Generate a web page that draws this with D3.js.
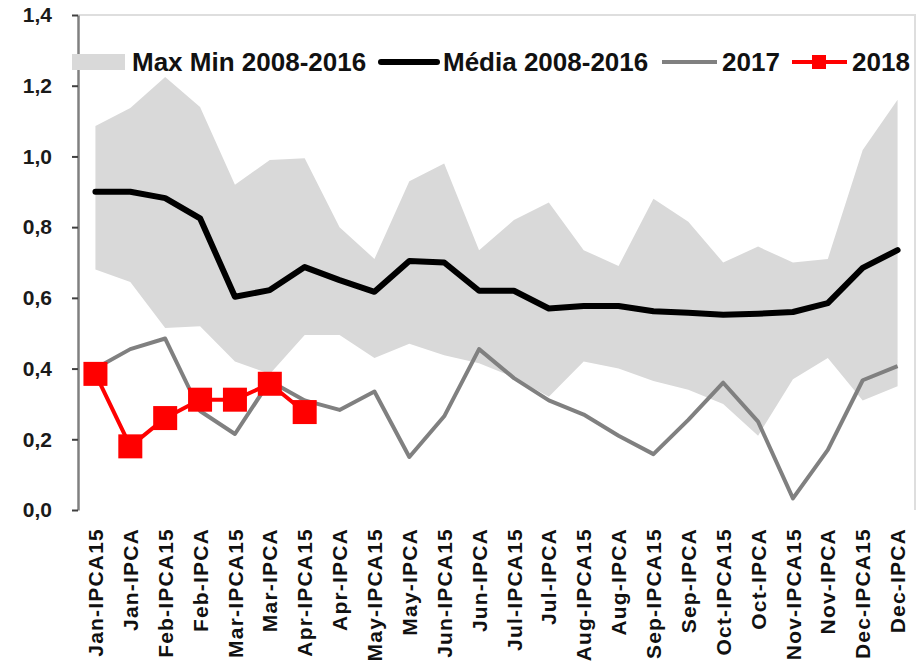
<!DOCTYPE html>
<html>
<head>
<meta charset="utf-8">
<script src="https://cdn.jsdelivr.net/npm/d3@7"></script>
<style>
  html, body { margin: 0; padding: 0; background: #fff; }
  svg { display: block; }
  text { font-family: "Liberation Sans", Arial, sans-serif; }
</style>
</head>
<body>
<svg id="chart" width="917" height="665"></svg>
<script>
const categories = ["Jan-IPCA15","Jan-IPCA","Feb-IPCA15","Feb-IPCA","Mar-IPCA15","Mar-IPCA",
  "Apr-IPCA15","Apr-IPCA","May-IPCA15","May-IPCA","Jun-IPCA15","Jun-IPCA",
  "Jul-IPCA15","Jul-IPCA","Aug-IPCA15","Aug-IPCA","Sep-IPCA15","Sep-IPCA",
  "Oct-IPCA15","Oct-IPCA","Nov-IPCA15","Nov-IPCA","Dec-IPCA15","Dec-IPCA"];
const maxVals = [1.086,1.137,1.225,1.14,0.92,0.99,0.995,0.80,0.71,0.93,0.98,0.735,
  0.82,0.87,0.735,0.69,0.88,0.815,0.70,0.745,0.70,0.71,1.018,1.16];
const minVals = [0.68,0.645,0.515,0.52,0.42,0.385,0.495,0.495,0.43,0.47,0.438,0.415,
  0.375,0.32,0.42,0.40,0.365,0.34,0.30,0.21,0.37,0.43,0.31,0.35];
const avgVals = [0.90,0.90,0.882,0.825,0.603,0.622,0.687,0.65,0.617,0.704,0.70,0.62,
  0.62,0.57,0.577,0.577,0.562,0.558,0.552,0.555,0.56,0.585,0.685,0.735];
const vals2017 = [0.40,0.455,0.485,0.28,0.215,0.365,0.31,0.283,0.335,0.15,0.265,0.455,
  0.373,0.31,0.27,0.21,0.158,0.255,0.36,0.25,0.033,0.17,0.367,0.407];
const vals2018 = [0.385,0.18,0.26,0.312,0.312,0.357,0.277];
const yTicks = [0,0.2,0.4,0.6,0.8,1.0,1.2,1.4];
const legendLabels = ["Max Min 2008-2016","Média 2008-2016","2017","2018"];

const svg = d3.select("#chart");
const W = 917, H = 665;
const plot = {left: 78, right: 915, top: 15, bottom: 510};

const x = d3.scaleBand().domain(categories).range([plot.left, plot.right]).padding(0);
const cx = c => x(c) + x.bandwidth() / 2;
const y = d3.scaleLinear().domain([0, 1.4]).range([plot.bottom, plot.top]);

svg.append("rect").attr("width", W).attr("height", H).attr("fill", "#fff");

// plot frame (top and right)
svg.append("path")
  .attr("d", `M${plot.left},${plot.top}H${plot.right}V${plot.bottom}`)
  .attr("fill", "none").attr("stroke", "#dedede").attr("stroke-width", 2);

// band
const bandData = categories.map((c, i) => ({c, lo: minVals[i], hi: maxVals[i]}));
svg.append("path").datum(bandData)
  .attr("fill", "#d9d9d9")
  .attr("d", d3.area().x(d => cx(d.c)).y0(d => y(d.lo)).y1(d => y(d.hi)));

// 2017
const line = d3.line().x(d => cx(d.c)).y(d => y(d.v));
svg.append("path").datum(categories.map((c, i) => ({c, v: vals2017[i]})))
  .attr("fill", "none").attr("stroke", "#808080").attr("stroke-width", 4)
  .attr("stroke-linejoin", "round").attr("d", line);

// average
svg.append("path").datum(categories.map((c, i) => ({c, v: avgVals[i]})))
  .attr("fill", "none").attr("stroke", "#000").attr("stroke-width", 6)
  .attr("stroke-linejoin", "round").attr("stroke-linecap", "round").attr("d", line);

// 2018
const d2018 = vals2018.map((v, i) => ({c: categories[i], v}));
svg.append("path").datum(d2018)
  .attr("fill", "none").attr("stroke", "#ff0000").attr("stroke-width", 4)
  .attr("stroke-linejoin", "round").attr("d", line);
const sq = 24;
svg.append("g").selectAll("rect").data(d2018).join("rect")
  .attr("x", d => cx(d.c) - sq / 2).attr("y", d => y(d.v) - sq / 2)
  .attr("width", sq).attr("height", sq).attr("fill", "#ff0000");

// y axis
const yAxis = svg.append("g").attr("transform", `translate(${plot.left},0)`)
  .call(d3.axisLeft(y).tickValues(yTicks).tickSize(6).tickSizeOuter(0).tickPadding(20)
    .tickFormat(d => d3.format(".1f")(d).replace(".", ",")));
yAxis.select(".domain").attr("stroke", "#808080").attr("stroke-width", 2.5);
yAxis.selectAll(".tick line").attr("stroke", "#404040").attr("stroke-width", 2);
yAxis.selectAll(".tick text").attr("font-size", 21).attr("font-weight", "bold")
  .attr("fill", "#1a1a1a").style("font-family", "'Liberation Sans', Arial, sans-serif");

// x axis labels
const xAxis = svg.append("g").attr("transform", `translate(0,${plot.bottom})`)
  .call(d3.axisBottom(x).tickSize(0));
xAxis.select(".domain").remove();
xAxis.selectAll(".tick text")
  .attr("transform", "rotate(-90)")
  .attr("x", -18).attr("y", 0).attr("dy", "0.36em")
  .attr("text-anchor", "end")
  .attr("font-size", 21).attr("font-weight", "bold").attr("fill", "#111")
  .attr("letter-spacing", 1.2)
  .style("font-family", "'Liberation Sans', Arial, sans-serif");

// legend
const lg = svg.append("g").attr("font-size", 26).attr("font-weight", "bold").attr("fill", "#111");
const ly = 62, lb = 71;
lg.append("rect").attr("x", 72).attr("y", 54).attr("width", 53).attr("height", 16).attr("fill", "#d9d9d9");
lg.append("text").attr("x", 132).attr("y", lb).text(legendLabels[0]);
lg.append("line").attr("x1", 381).attr("x2", 437).attr("y1", ly).attr("y2", ly)
  .attr("stroke", "#000").attr("stroke-width", 6).attr("stroke-linecap", "round");
lg.append("text").attr("x", 443).attr("y", lb).text(legendLabels[1]);
lg.append("line").attr("x1", 662).attr("x2", 717).attr("y1", ly).attr("y2", ly)
  .attr("stroke", "#808080").attr("stroke-width", 4);
lg.append("text").attr("x", 722).attr("y", lb).text(legendLabels[2]);
lg.append("line").attr("x1", 792).attr("x2", 847).attr("y1", ly).attr("y2", ly)
  .attr("stroke", "#ff0000").attr("stroke-width", 4);
lg.append("rect").attr("x", 812).attr("y", ly - 7).attr("width", 14).attr("height", 14).attr("fill", "#ff0000");
lg.append("text").attr("x", 852).attr("y", lb).text(legendLabels[3]);
</script>
</body>
</html>
